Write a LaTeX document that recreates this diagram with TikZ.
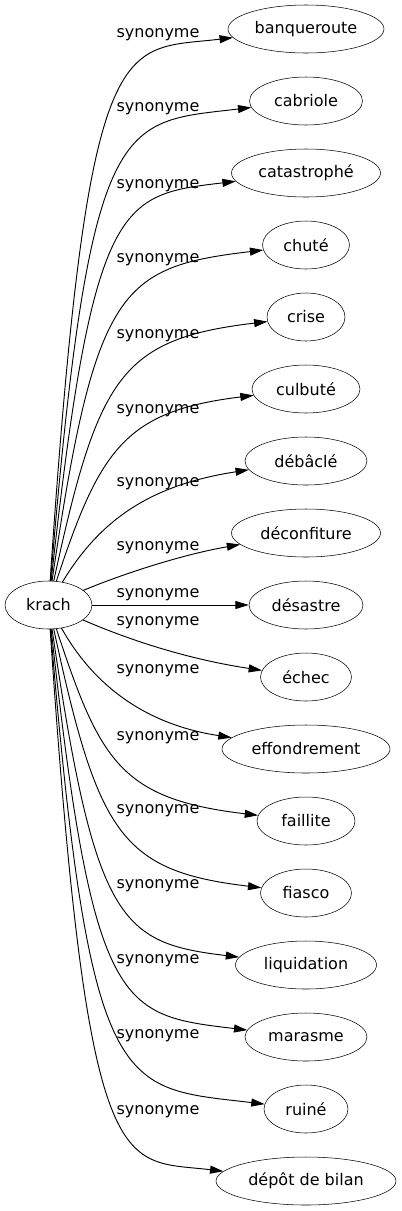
\documentclass[tikz,border=0pt]{standalone}
\usepackage{fontspec}
\setmainfont{DejaVu Sans}
\usetikzlibrary{arrows.meta,shapes.geometric}

\begin{document}
\begin{tikzpicture}[x=0.75pt,y=-0.75pt,>={Triangle[length=10pt,width=6pt]},line cap=round,line join=round,
  syn/.style={draw,ellipse,inner sep=0pt,minimum height=36pt,font=\fontsize{12}{14}\selectfont},
  lbl/.style={inner sep=0pt,font=\fontsize{12}{14}\selectfont},
  edge/.style={->,line width=0.7pt}]
  \useasboundingbox (0,0) rectangle (401,1211);

  % source word
  \node[syn,minimum width=65.25pt] (krach) at (48.5,605) {krach};

  % synonyms, one per row
  \foreach \nm/\txt/\row/\w in {banqueroute/banqueroute/0/117, cabriole/cabriole/1/84.75,
      catastrophe/catastrophé/2/111.75, chute/chuté/3/65.25, crise/crise/4/58.5,
      culbute/culbuté/5/81, debacle/débâclé/6/91.5, deconfiture/déconfiture/7/111.75,
      desastre/désastre/8/85.5, echec/échec/9/68.25, effondrement/effondrement/10/126,
      faillite/faillite/11/73.5, fiasco/fiasco/12/68.25, liquidation/liquidation/13/105.75,
      marasme/marasme/14/91.5, ruine/ruiné/15/63, depot/dépôt de bilan/16/135}
    \node[syn,minimum width=\w pt] (\nm) at (306,{29+72*\row}) {\txt};

  % edge labels
  \foreach \i/\y in {1/34,2/108,3/185,4/259,5/335,6/410,7/483,8/547,9/594,10/622,
      11/670,12/737,13/810,14/885,15/960,16/1035,17/1111}
    \node[lbl] (l\i) at (158,\y+1) {synonyme};

  % edges
  \draw[edge] (krach) -- (desastre);
  \foreach \nm/\ax/\ay/\bx/\by in {banqueroute/88/19/120/51, cabriole/90/109/120/123,
      catastrophe/93/198/120/195, chute/95/288/120/267, crise/98/377/120/339,
      culbute/100/449/125/411, debacle/100/520/150/485, deconfiture/120/575/180/555,
      echec/120/636/180/658, effondrement/85/670/130/722, faillite/100/761/120/799,
      fiasco/98/833/120/871, liquidation/95/922/120/943, marasme/93/1012/120/1015,
      ruine/90/1101/120/1087, depot/88/1191/120/1159}
    \draw[edge] (krach) .. controls (\ax,\ay) and (\bx,\by) .. (\nm);
\end{tikzpicture}
\end{document}
